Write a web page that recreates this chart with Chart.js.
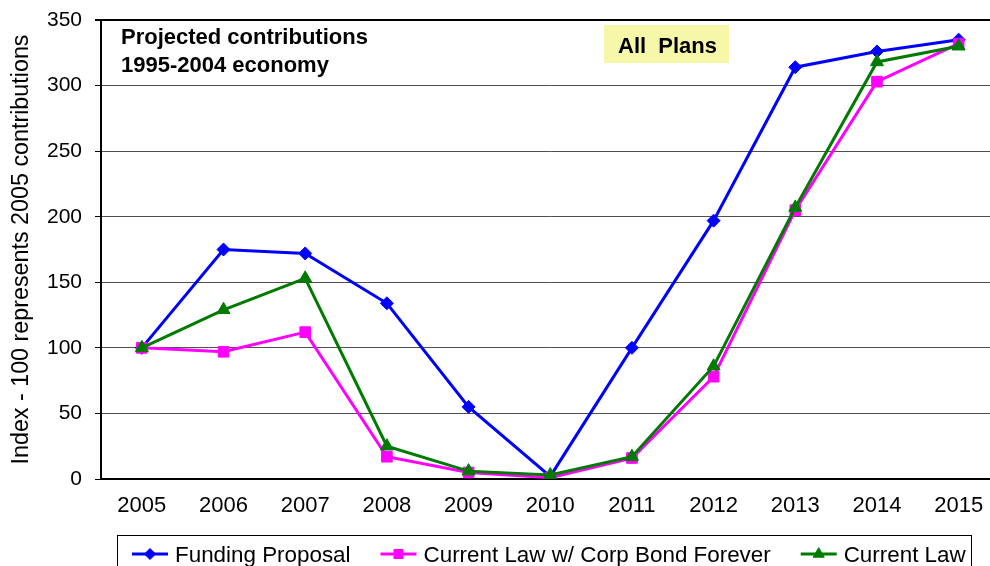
<!DOCTYPE html>
<html>
<head>
<meta charset="utf-8">
<script src="https://cdn.jsdelivr.net/npm/chart.js@4/dist/chart.umd.min.js"></script>
<style>
  html, body { margin: 0; padding: 0; background: #fff; overflow: hidden; }
  #wrap { position: relative; width: 1008px; height: 566px; }
  #chart { width: 1008px; height: 566px; display: block; }
</style>
</head>
<body>
<div id="wrap"><canvas id="chart" width="1008" height="566"></canvas></div>
<script>
// Years on the category axis
const years = ['2005', '2006', '2007', '2008', '2009', '2010', '2011', '2012', '2013', '2014', '2015'];

// Contribution index per year (2005 = 100)
const fundingProposal = [100, 175, 172, 134, 55, 2, 100, 197, 314, 326, 335];
const corpBondForever = [100, 97, 112, 17, 5, 1, 16, 78, 205, 303, 332];
const currentLaw      = [100, 129, 153, 25, 6, 3, 17, 86, 207, 318, 330];

const seriesNames = ['Funding Proposal', 'Current Law w/ Corp Bond Forever', 'Current Law'];

// Value axis ticks
const yTicks = [0, 50, 100, 150, 200, 250, 300, 350];

const FONT = "'Liberation Sans', Arial, Helvetica, sans-serif";

// Text boxes inside the plot and the boxed legend along the bottom
const annotations = {
  id: 'annotations',
  afterDraw(chart) {
    const ctx = chart.ctx;
    ctx.save();

    // Heading, top left
    ctx.fillStyle = '#000';
    ctx.font = 'bold 22px ' + FONT;
    ctx.textAlign = 'left';
    ctx.textBaseline = 'alphabetic';
    ctx.fillText('Projected contributions', 121, 44);
    ctx.fillText('1995-2004 economy', 121, 72);

    // "All Plans" tag
    ctx.fillStyle = '#f7f7a9';
    ctx.fillRect(604, 25, 125, 38);
    ctx.fillStyle = '#000';
    ctx.font = 'bold 22px ' + FONT;
    ctx.fillText('All  Plans', 618, 53);

    // Legend
    ctx.strokeStyle = '#000';
    ctx.lineWidth = 1;
    ctx.strokeRect(117.5, 535.5, 854, 60);
    ctx.font = '22.4px ' + FONT;
    let x = 132;
    const y = 554;
    chart.data.datasets.forEach((ds) => {
      ctx.strokeStyle = ds.borderColor;
      ctx.lineWidth = 3;
      ctx.beginPath();
      ctx.moveTo(x, y);
      ctx.lineTo(x + 36, y);
      ctx.stroke();
      ctx.fillStyle = ds.pointBackgroundColor;
      ctx.lineWidth = 1;
      Chart.helpers.drawPoint(ctx, {
        pointStyle: ds.pointStyle,
        radius: ds.pointRadius * 0.85,
        borderWidth: 1
      }, x + 18, y);
      ctx.fillStyle = '#000';
      ctx.fillText(ds.label, x + 43, 562);
      x += 43 + ctx.measureText(ds.label).width + 30;
    });
    ctx.restore();
  }
};

function series(label, data, color, style, radius, order) {
  return {
    label, data, order,
    borderColor: color,
    backgroundColor: color,
    pointBackgroundColor: color,
    pointBorderColor: color,
    borderWidth: 3,
    pointStyle: style,
    pointRadius: radius,
    pointBorderWidth: 1,
    tension: 0
  };
}

function noScalePadding(scale) {
  scale.paddingLeft = 0;
  scale.paddingRight = 0;
  scale.paddingTop = 0;
  scale.paddingBottom = 0;
}

new Chart(document.getElementById('chart'), {
  type: 'line',
  data: {
    labels: years,
    datasets: [
      series(seriesNames[0], fundingProposal, '#0000ff', 'rectRot', 6.5, 2),
      series(seriesNames[1], corpBondForever, '#ff00ff', 'rect', 7.5, 1),
      series(seriesNames[2], currentLaw, '#007a00', 'triangle', 7.5, 0)
    ]
  },
  options: {
    responsive: false,
    animation: false,
    devicePixelRatio: 1,
    // the last category column runs past the right edge of the window
    layout: { padding: { left: 0, top: 20, right: 3, bottom: 0 } },
    plugins: {
      legend: { display: false },
      tooltip: { enabled: false }
    },
    scales: {
      x: {
        offset: true,
        grid: { display: false, drawTicks: false },
        border: { display: true, color: '#000', width: 2 },
        ticks: { color: '#000', font: { family: FONT, size: 22 }, padding: 14, maxRotation: 0 },
        afterFit(scale) {
          scale.height = 87;
          noScalePadding(scale);
        }
      },
      y: {
        min: 0,
        max: 350,
        afterBuildTicks(scale) { scale.ticks = yTicks.map(v => ({ value: v })); },
        grid: {
          color: (c) => (c.tick && (c.tick.value === 350 || c.tick.value === 0)) ? '#000' : '#505050',
          lineWidth: (c) => (c.tick && c.tick.value === 350) ? 2 : 1,
          drawTicks: true,
          tickLength: 6,
          tickColor: '#000'
        },
        border: { display: true, color: '#000', width: 2 },
        ticks: { color: '#000', font: { family: FONT, size: 21 }, padding: 13 },
        title: {
          display: true,
          text: 'Index - 100 represents 2005 contributions',
          color: '#000',
          font: { family: FONT, size: 23.3 },
          padding: { top: 8, bottom: 0 }
        },
        afterFit(scale) {
          scale.width = 101;
          noScalePadding(scale);
        }
      }
    }
  },
  plugins: [annotations]
});
</script>
</body>
</html>
